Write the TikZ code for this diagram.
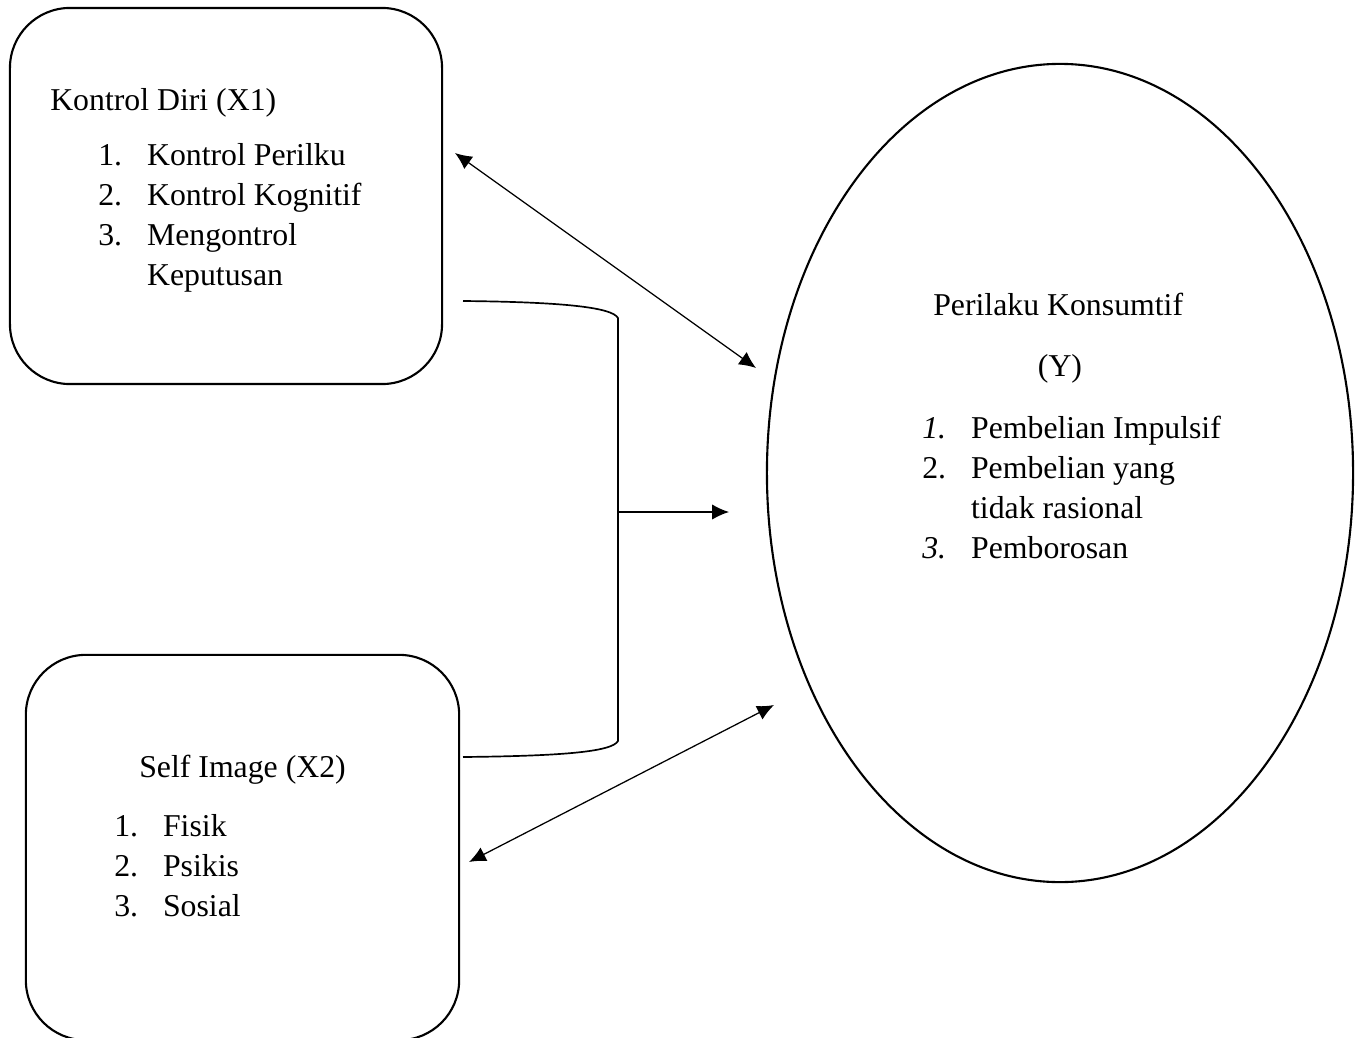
\documentclass[tikz,border=0pt]{standalone}
\usepackage{fontspec}
\setmainfont{Liberation Serif}
\usetikzlibrary{shapes,arrows.meta,positioning}

\begin{document}
\begin{tikzpicture}[
    x=0.025cm, y=-0.025cm,
    var/.style={rectangle, rounded corners=1.5cm, draw=black, line width=1.5pt},
    dep/.style={ellipse, draw=black, line width=1.5pt, inner sep=0, minimum width=14.65cm, minimum height=20.45cm},
    txt/.style={anchor=base west, inner sep=0, font=\fontsize{22.6pt}{28.45pt}\selectfont},
    arrow/.style={-{Latex[length=0.42cm, width=0.38cm]}, line width=0.9pt},
    biarrow/.style={{Latex[length=0.42cm, width=0.38cm]}-{Latex[length=0.42cm, width=0.38cm]}, line width=0.9pt},
    bracket/.style={line width=1.2pt}
]
\newcommand{\itm}[2]{\makebox[1.22cm][l]{#1}#2}
\useasboundingbox (0,0) rectangle (1360,1038);

% Variables
\node (kontrol) [var, minimum width=10.8cm, minimum height=9.4cm] at (226,196) {};
\node (image) [var, minimum width=10.83cm, minimum height=9.63cm] at (242.5,847.5) {};
\node (konsumtif) [dep] at (1060,473) {};

% Texts X1
\node (kontrolT) [txt] at (50,110) {Kontrol Diri (X1)};
\node (kontrol1) [txt] at (98,165) {\itm{1.}{Kontrol Perilku}};
\node (kontrol2) [txt] at (98,205) {\itm{2.}{Kontrol Kognitif}};
\node (kontrol3) [txt] at (98,245) {\itm{3.}{Mengontrol}};
\node (kontrol3b) [txt] at (98,285) {\itm{}{Keputusan}};

% Texts X2
\node (imageT) [txt] at (139,777) {Self Image (X2)};
\node (image1) [txt] at (114,836) {\itm{1.}{Fisik}};
\node (image2) [txt] at (114,876) {\itm{2.}{Psikis}};
\node (image3) [txt] at (114,916) {\itm{3.}{Sosial}};

% Texts Y
\node (konsumtifT) [txt] at (933,315) {Perilaku Konsumtif};
\node (konsumtifY) [txt, anchor=base] at (1060,376) {(Y)};
\node (konsumtif1) [txt] at (922,438) {\itm{\textit{1.}}{Pembelian Impulsif}};
\node (konsumtif2) [txt] at (922,478) {\itm{2.}{Pembelian yang}};
\node (konsumtif2b) [txt] at (922,518) {\itm{}{tidak rasional}};
\node (konsumtif3) [txt] at (922,558) {\itm{\textit{3.}}{Pemborosan}};

% Connector ends
\coordinate (kontrolOut) at (463,301);
\coordinate (imageOut) at (463,757);
\coordinate (joinTop) at (618,318);
\coordinate (joinBot) at (618,741);
\coordinate (join) at (618,512);
\coordinate (jointIn) at (729,512);
\coordinate (kontrolA) at (455,153);
\coordinate (konsumtifA) at (756,368);
\coordinate (imageB) at (469,862);
\coordinate (konsumtifB) at (774,705);

% Arrows
\draw [bracket] (kontrolOut) .. controls (560,302) and (612,307) .. (joinTop) -- (joinBot) .. controls (612,752) and (560,756) .. (imageOut);
\draw [arrow] (join) -- (jointIn);
\draw [biarrow] (kontrolA) -- (konsumtifA);
\draw [biarrow] (imageB) -- (konsumtifB);

\end{tikzpicture}
\end{document}
